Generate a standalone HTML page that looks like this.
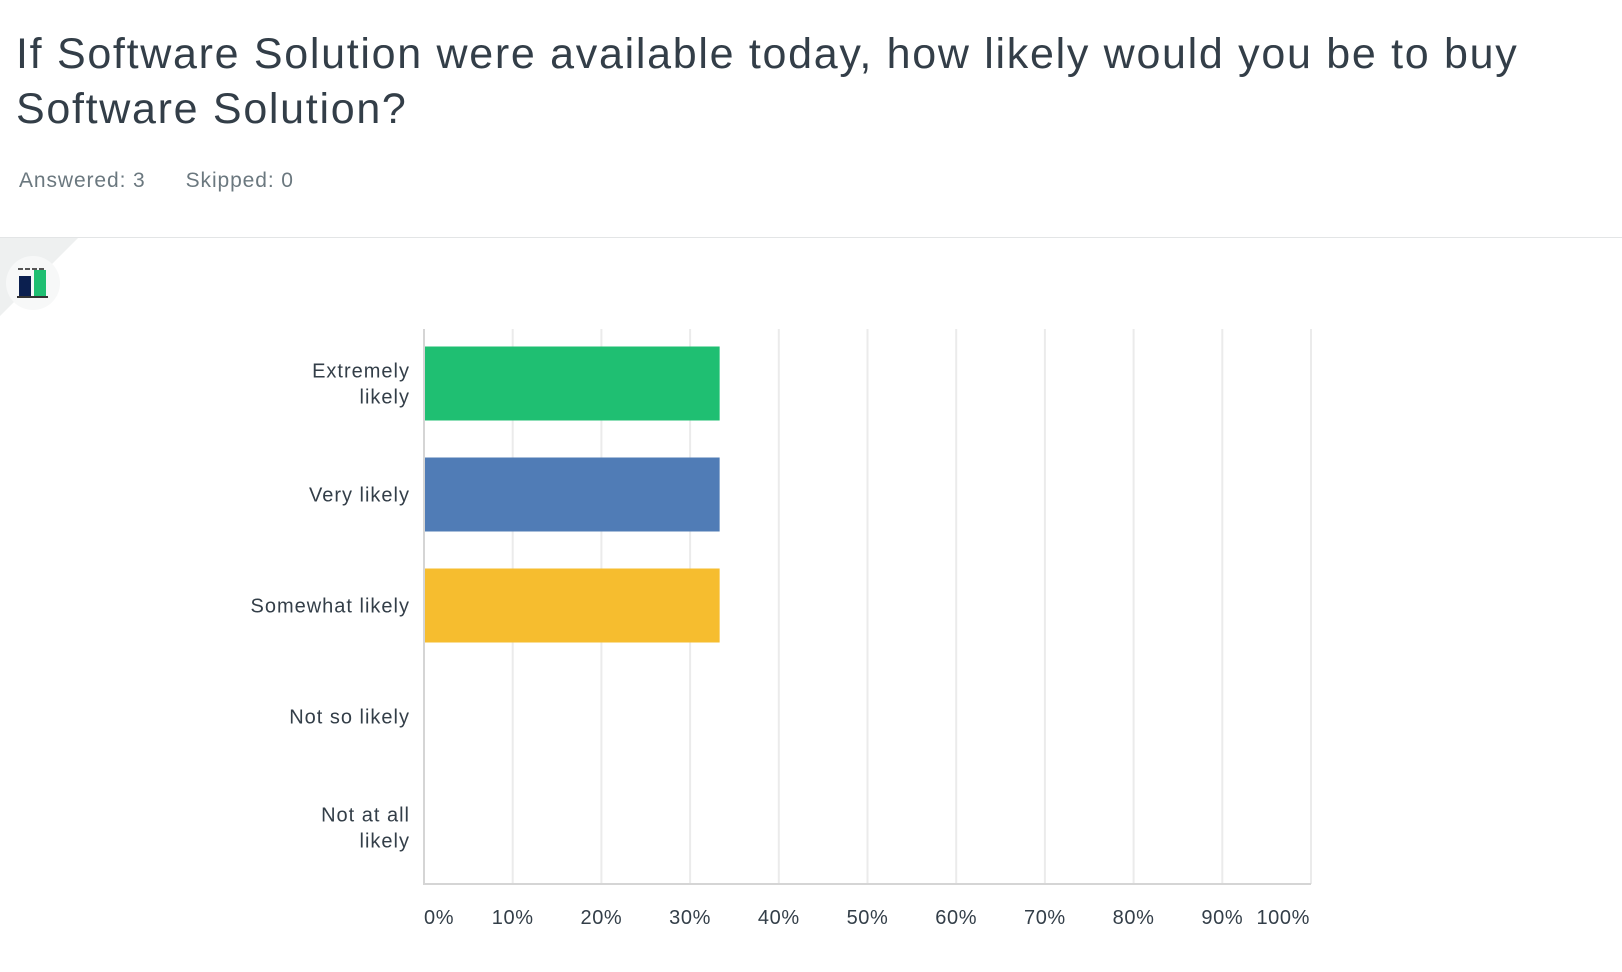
<!DOCTYPE html>
<html><head><meta charset="utf-8"><style>
body{margin:0;width:1622px;height:972px;background:#fff;font-family:"Liberation Sans",sans-serif;color:#333e48;position:relative;overflow:hidden}
#title{position:absolute;left:16px;top:27px;font-size:43px;line-height:55px;font-weight:normal;margin:0;letter-spacing:1.7px}
#meta{position:absolute;left:19px;top:169px;font-size:21px;color:#6b787f;letter-spacing:0.9px}
#meta span{margin-right:40px}
#divider{position:absolute;left:0;top:237px;width:1622px;height:1px;background:#e3e5e6}
</style></head><body>
<h1 id="title">If Software Solution were available today, how likely would you be to buy<br>Software Solution?</h1>
<div id="meta"><span>Answered: 3</span><span>Skipped: 0</span></div>
<div id="divider"></div>
<svg width="1622" height="972" style="position:absolute;left:0;top:0" id="chart">
<polygon points="0,238 78,238 0,316" fill="#eef0f0"/>
<g>
<circle cx="33" cy="283" r="27" fill="#f7f8f8"/>
<rect x="18" y="268" width="5" height="2" fill="#555"/><rect x="25" y="268" width="5" height="2" fill="#555"/><rect x="32" y="268" width="5" height="2" fill="#555"/><rect x="39" y="268" width="5" height="2" fill="#555"/>
<rect x="19" y="276" width="12" height="20" fill="#0b1f4f"/>
<rect x="34" y="270" width="12" height="26" fill="#1fbf72"/>
<rect x="17" y="296" width="31" height="2" fill="#333"/>
</g>
<g id="plot"></g>
</svg>
<script>
const categories=["Extremely\nlikely","Very likely","Somewhat likely","Not so likely","Not at all\nlikely"];
const values=[33.33,33.33,33.33,0,0];
const colors=["#1fbf72","#507cb6","#f6bd2f","#888","#888"];
const ticks=[0,10,20,30,40,50,60,70,80,90,100];
const ns="http://www.w3.org/2000/svg";
const g=document.getElementById('plot');
const x0=424,x1=1311,yTop=329,yBot=884;
const xs=v=>x0+(x1-x0)*v/100;
const band=(yBot-yTop)/categories.length;
function el(t,a){const e=document.createElementNS(ns,t);for(const k in a)e.setAttribute(k,a[k]);g.appendChild(e);return e;}
ticks.forEach((t,i)=>{
  if(t>0){const l=el('line',{x1:xs(t),x2:xs(t),y1:yTop,y2:yBot,stroke:'#ebebeb','stroke-width':2});
  
  }
  const anchor=i==0?'start':(i==ticks.length-1?'end':'middle');
  const tx=el('text',{x:xs(t)+(i==ticks.length-1?-1:0),y:924,'font-size':20,fill:'#333e48','text-anchor':anchor,'letter-spacing':0.6});
  tx.textContent=t+'%';
  
  
});
const ax=el('line',{x1:x0,x2:x0,y1:yTop,y2:yBot,stroke:'#d5d5d5','stroke-width':2});


const bx=el('line',{x1:x0-1,x2:x1,y1:yBot,y2:yBot,stroke:'#d5d5d5','stroke-width':2});


categories.forEach((c,i)=>{
  const cy=yTop+band*(i+0.5)-1;
  if(values[i]>0){const r=el('rect',{x:x0+1,y:cy-37,width:xs(values[i])-x0-1,height:74,fill:colors[i]});
  
  }
  const lines=c.split('\n');
  lines.forEach((ln,j)=>{
    const t=el('text',{x:410,y:cy+7+(j-(lines.length-1)/2)*26,'font-size':20,fill:'#333e48','text-anchor':'end','letter-spacing':1});
    t.textContent=ln;
    
    
  });
});
</script>
</body></html>
